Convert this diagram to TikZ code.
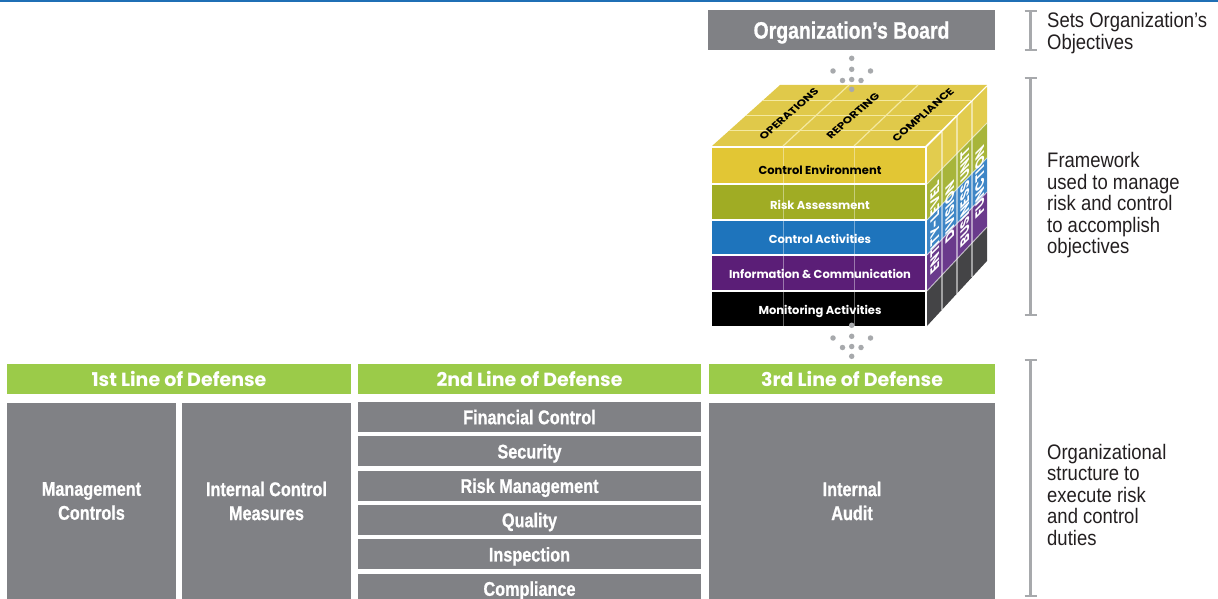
\documentclass[tikz,border=0pt]{standalone}
\usepackage{fontspec}
\newfontfamily\cnr[FakeStretch=0.88]{Liberation Sans}
\newfontfamily\cnb[FakeStretch=0.82,FakeBold=0.8]{Liberation Sans Bold}
\newfontfamily\geo{Poppins}
\definecolor{topblue}{RGB}{31,111,181}
\definecolor{boxgray}{RGB}{128,129,133}
\definecolor{hdrgreen}{RGB}{155,203,73}
\definecolor{brk}{RGB}{167,169,172}
\definecolor{dotc}{RGB}{167,169,172}
\definecolor{fY}{RGB}{226,198,52}
\definecolor{fG}{RGB}{160,172,36}
\definecolor{fB}{RGB}{30,116,188}
\definecolor{fP}{RGB}{91,30,119}
\definecolor{fK}{RGB}{0,0,0}
\definecolor{rY}{RGB}{226,204,78}
\definecolor{rG}{RGB}{167,181,58}
\definecolor{rB}{RGB}{62,134,198}
\definecolor{rP}{RGB}{106,58,140}
\definecolor{rK}{RGB}{68,68,70}
\definecolor{topY}{RGB}{224,201,74}
\definecolor{gridY}{RGB}{244,233,160}
\definecolor{txt}{RGB}{35,31,32}
\begin{document}
\begin{tikzpicture}[x=1pt,y=-1pt,
  graybox/.style={fill=boxgray, text=white, inner sep=0pt, align=center, font=\cnb\fontsize{19.8}{24}\selectfont},
  hdr/.style={fill=hdrgreen, text=white, inner sep=0pt, minimum height=30pt, text depth=0pt, font=\geo\bfseries\fontsize{19}{22}\selectfont},
  rowtxt/.style={inner sep=0pt, text depth=0pt, font=\geo\bfseries\fontsize{11.5}{13}\selectfont},
  toptxt/.style={inner sep=0pt, text=black, font=\geo\bfseries\fontsize{10.5}{11}\selectfont, cm={0.83,0.72,-0.75,0.6,(0,0)}},
  sidetxt/.style={inner sep=0pt, text=white, font=\geo\bfseries\fontsize{13}{14}\selectfont, cm={0,1,-0.95,-0.95,(0,0)}},
  sidelbl/.style={anchor=west, inner sep=0pt, align=left, text=txt, font=\cnr\fontsize{21}{21.5}\selectfont},
  brkline/.style={draw=brk, line width=2.5pt},
  dot/.style={circle, fill=dotc, inner sep=0pt, minimum size=5.5pt},
]
\useasboundingbox (0,0) rectangle (1218,599);
\clip (0,0) rectangle (1218,599);
% top blue rule
\fill[topblue] (0,0) rectangle (1218,2.5);
% board
\node[graybox, minimum width=287pt, minimum height=40pt, text depth=0pt, font=\cnb\fontsize{23.7}{26}\selectfont] (board) at (851.5,30) {Organization’s Board};

% ---- cube ----
% top face
\fill[topY] (712,146) -- (925,146) -- (987,85) -- (780,85) -- cycle;
\foreach \s in {0.25,0.5,0.75}
  \draw[gridY, line width=1.2pt] ({712+68*\s},{146-61*\s}) -- ({925+62*\s},{146-61*\s});
\foreach \t in {0.3333,0.6667}
  \draw[gridY, line width=1.2pt] ({712+213*\t},146) -- ({780+207*\t},85);
% right face bands
\foreach \a/\b/\c in {147/184/rY,184/220/rG,220/255/rB,255/291/rP,291/326/rK}
  \fill[\c] (927,\a) -- (987,{86+(\a-146)*0.972}) -- (987,{86+(\b-146)*0.972}) -- (927,\b) -- cycle;
\foreach \a in {184,220,255,291}
  \draw[white, opacity=0.6, line width=1pt] (927,\a) -- (987,{86+(\a-146)*0.972});
\foreach \s in {0.25,0.5,0.75}
  \draw[white, opacity=0.5, line width=1.3pt] ({927+60*\s},{147-61*\s}) -- ({927+60*\s},{326-65*\s});
% front rows
\fill[fY] (712,148) rectangle (925,183);
\fill[fG] (712,185) rectangle (925,219);
\fill[fB] (712,221) rectangle (925,254);
\fill[fP] (712,256) rectangle (925,290);
\fill[fK] (712,292) rectangle (925,326);
\foreach \x in {783,854}
  \draw[white, opacity=0.4, line width=1pt] (\x,148) -- (\x,326);
\node[rowtxt, text=black] (ce) at (820,170.3) {Control Environment};
\node[rowtxt, text=white] (ra) at (820,205) {Risk Assessment};
\node[rowtxt, text=white] (ca) at (820,239) {Control Activities};
\node[rowtxt, text=white] (ic) at (820,274) {Information \& Communication};
\node[rowtxt, text=white] (ma) at (820,310) {Monitoring Activities};
% top face labels
\begin{scope}[shift={(789,114)}]\node[toptxt] (op) at (0,0) {OPERATIONS};\end{scope}
\begin{scope}[shift={(853,116)}]\node[toptxt] (rep) at (0,0) {REPORTING};\end{scope}
\begin{scope}[shift={(923,115)}]\node[toptxt] (comp) at (0,0) {COMPLIANCE};\end{scope}
% right face labels
\begin{scope}[shift={(935.5,228)}]\node[sidetxt] (ent) at (0,0) {ENTITY-LEVEL};\end{scope}
\begin{scope}[shift={(950.5,212)}]\node[sidetxt] (div) at (0,0) {DIVISION};\end{scope}
\begin{scope}[shift={(965.5,197)}]\node[sidetxt] (bu) at (0,0) {BUSINESS UNIT};\end{scope}
\begin{scope}[shift={(980.5,182)}]\node[sidetxt] (fun) at (0,0) {FUNCTION};\end{scope}

% dots
\foreach \dy/\n in {0/a,267/b}{
  \node[dot] (\n1) at (851.7,{58.3+\dy}) {};
  \node[dot] (\n2) at (833,{71+\dy}) {};
  \node[dot] (\n3) at (851.7,{69.3+\dy}) {};
  \node[dot] (\n4) at (870.5,{71+\dy}) {};
  \node[dot] (\n5) at (842.5,{80.5+\dy}) {};
  \node[dot] (\n6) at (851.7,{79.5+\dy}) {};
  \node[dot] (\n7) at (861,{80.5+\dy}) {};
  \node[dot] (\n8) at (851.7,{89.3+\dy}) {};
}

% ---- lines of defense ----
\node[hdr, minimum width=344pt] (h1) at (179,379) {1st Line of Defense};
\node[hdr, minimum width=343pt] (h2) at (529.5,379) {2nd Line of Defense};
\node[hdr, minimum width=286pt] (h3) at (852,379) {3rd Line of Defense};

\node[graybox, minimum width=169pt, minimum height=197pt] (mgmt) at (91.5,501) {Management\\Controls};
\node[graybox, minimum width=169pt, minimum height=197pt] (icm) at (266.5,501) {Internal Control\\Measures};

\node[graybox, text depth=0pt, minimum width=343pt, minimum height=30pt] (fc) at (529.5,417) {Financial Control};
\node[graybox, text depth=0pt, minimum width=343pt, minimum height=30pt] (sec) at (529.5,451.3) {Security};
\node[graybox, text depth=0pt, minimum width=343pt, minimum height=30pt] (rm) at (529.5,485.7) {Risk Management};
\node[graybox, text depth=0pt, minimum width=343pt, minimum height=30pt] (qual) at (529.5,520) {Quality};
\node[graybox, text depth=0pt, minimum width=343pt, minimum height=30pt] (insp) at (529.5,554.3) {Inspection};
\node[graybox, text depth=0pt, minimum width=343pt, minimum height=30pt] (compl) at (529.5,588.6) {Compliance};

\node[graybox, minimum width=286pt, minimum height=197pt] (ia) at (852,501) {Internal\\Audit};

% ---- brackets ----
\draw[brkline] (1024.5,11) -- (1036.5,11) (1030.5,11) -- (1030.5,50) (1024.5,50) -- (1036.5,50);
\draw[brkline] (1024.5,78) -- (1036.5,78) (1030.5,78) -- (1030.5,315) (1024.5,315) -- (1036.5,315);
\draw[brkline] (1024.5,360) -- (1036.5,360) (1030.5,360) -- (1030.5,596) (1024.5,596) -- (1036.5,596);

\node[sidelbl] (l1) at (1047,33) {Sets Organization’s\\Objectives};
\node[sidelbl] (l2) at (1047,205.5) {Framework\\used to manage\\risk and control\\to accomplish\\objectives};
\node[sidelbl] (l3) at (1047,494.5) {Organizational\\structure to\\execute risk\\and control\\duties};
\end{tikzpicture}
\end{document}
